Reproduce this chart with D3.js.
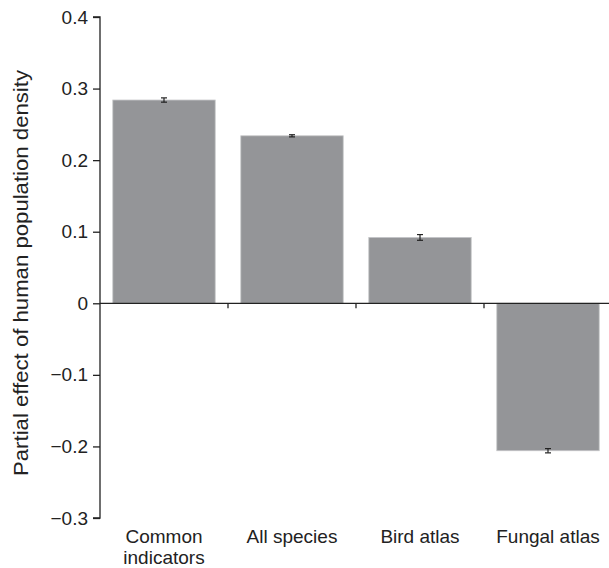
<!DOCTYPE html>
<html>
<head>
<meta charset="utf-8">
<script src="https://cdn.jsdelivr.net/npm/d3@7"></script>
<style>
  body { margin: 0; background: #fff; }
  text { font-family: "Liberation Sans", Arial, sans-serif; }
</style>
</head>
<body>
<svg id="chart" width="609" height="568"></svg>
<script>
var categories = [["Common", "indicators"], ["All species"], ["Bird atlas"], ["Fungal atlas"]];
var values = [0.284, 0.234, 0.092, -0.206];
var errors = [0.003, 0.0015, 0.004, 0.003];
var yTicks = [0.4, 0.3, 0.2, 0.1, 0, -0.1, -0.2, -0.3];

var svg = d3.select("#chart");

var x = d3.scaleBand()
  .domain(d3.range(categories.length))
  .range([100, 612])
  .paddingInner(0.2)
  .paddingOuter(0.1);

var y = d3.scaleLinear()
  .domain([-0.3, 0.4])
  .range([518, 17]);

var fmt = function(d) { return d == 0 ? "0" : (d < 0 ? "\u2212" + Math.abs(d).toFixed(1) : d.toFixed(1)); };

// bars
svg.selectAll("rect.bar")
  .data(values)
  .enter().append("rect")
  .attr("class", "bar")
  .attr("x", function(d, i) { return x(i); })
  .attr("width", x.bandwidth())
  .attr("y", function(d) { return y(Math.max(0, d)); })
  .attr("height", function(d) { return Math.abs(y(d) - y(0)); })
  .attr("fill", "#949598")
  .attr("stroke", "#c4c5c7")
  .attr("stroke-width", 0.8);

// error bars
var eb = svg.selectAll("g.err")
  .data(values)
  .enter().append("g")
  .attr("class", "err")
  .attr("stroke", "#222")
  .attr("stroke-width", 1.2);

eb.append("line")
  .attr("x1", function(d, i) { return x(i) + x.bandwidth() / 2; })
  .attr("x2", function(d, i) { return x(i) + x.bandwidth() / 2; })
  .attr("y1", function(d, i) { return y(d - errors[i]); })
  .attr("y2", function(d, i) { return y(d + errors[i]); });

eb.append("line")
  .attr("x1", function(d, i) { return x(i) + x.bandwidth() / 2 - 3; })
  .attr("x2", function(d, i) { return x(i) + x.bandwidth() / 2 + 3; })
  .attr("y1", function(d, i) { return y(d - errors[i]); })
  .attr("y2", function(d, i) { return y(d - errors[i]); });

eb.append("line")
  .attr("x1", function(d, i) { return x(i) + x.bandwidth() / 2 - 3; })
  .attr("x2", function(d, i) { return x(i) + x.bandwidth() / 2 + 3; })
  .attr("y1", function(d, i) { return y(d + errors[i]); })
  .attr("y2", function(d, i) { return y(d + errors[i]); });

// y axis
var yAxis = svg.append("g")
  .attr("transform", "translate(100,0)")
  .call(d3.axisLeft(y).tickValues(yTicks).tickFormat(fmt).tickSize(7).tickPadding(5));
yAxis.select(".domain").attr("d", "M-7," + y(0.4) + "H0V" + y(-0.3) + "H-7").attr("stroke", "#222").attr("stroke-width", 1.3);
yAxis.selectAll(".tick line").attr("stroke", "#222").attr("stroke-width", 1.3);
yAxis.selectAll(".tick text").attr("font-size", 19).attr("fill", "#222");

// zero line with ticks between categories
svg.append("line")
  .attr("x1", 100).attr("x2", 609)
  .attr("y1", y(0)).attr("y2", y(0))
  .attr("stroke", "#222").attr("stroke-width", 1.3);

svg.selectAll("line.sep")
  .data(d3.range(1, categories.length))
  .enter().append("line")
  .attr("class", "sep")
  .attr("x1", function(i) { return x(i) - x.step() * x.paddingInner() / 2; })
  .attr("x2", function(i) { return x(i) - x.step() * x.paddingInner() / 2; })
  .attr("y1", y(0)).attr("y2", y(0) + 5)
  .attr("stroke", "#222").attr("stroke-width", 1.3);

// category labels
svg.selectAll("text.cat")
  .data(categories)
  .enter().append("text")
  .attr("class", "cat")
  .attr("text-anchor", "middle")
  .attr("font-size", 19)
  .attr("fill", "#222")
  .each(function(lines, i) {
    d3.select(this).selectAll("tspan")
      .data(lines)
      .enter().append("tspan")
      .attr("x", x(i) + x.bandwidth() / 2)
      .attr("y", function(l, j) { return 543 + j * 21; })
      .text(function(l) { return l; });
  });

// y label
svg.append("text")
  .attr("transform", "translate(28,273) rotate(-90)")
  .attr("text-anchor", "middle")
  .attr("font-size", 20)
  .attr("textLength", 406)
  .attr("lengthAdjust", "spacingAndGlyphs")
  .attr("fill", "#222")
  .text("Partial effect of human population density");
</script>
</body>
</html>
